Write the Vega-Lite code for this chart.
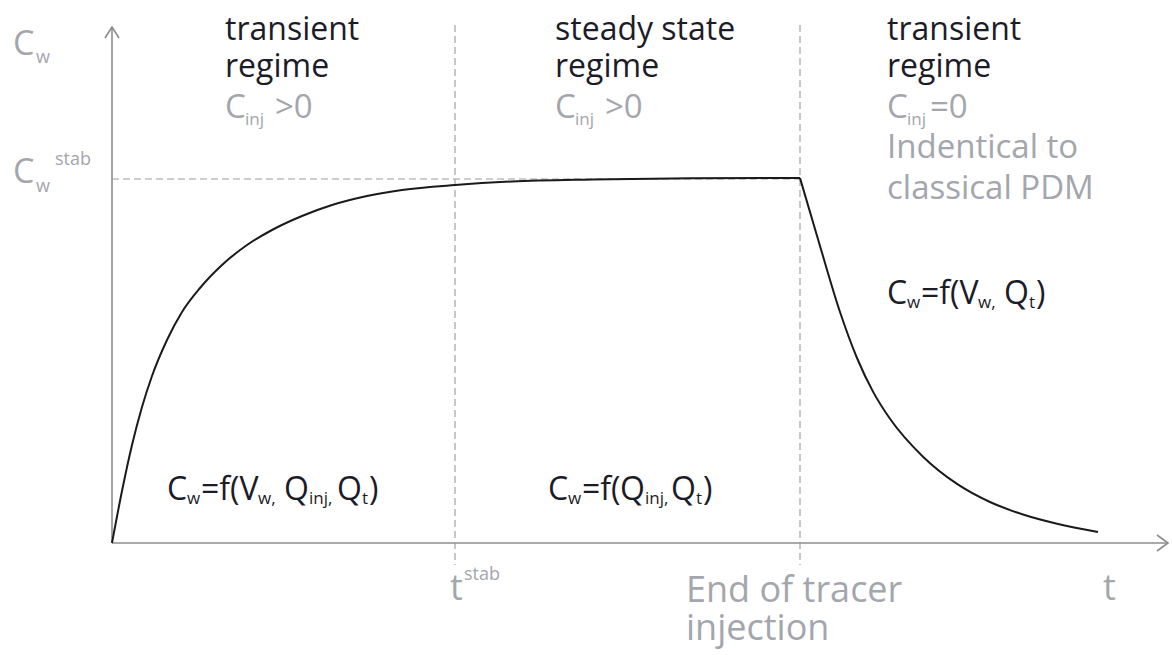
{
  "$schema": "https://vega.github.io/schema/vega-lite/v6.json",
  "width": 1172,
  "height": 655,
  "autosize": {"type": "fit", "contains": "padding"},
  "padding": 0,
  "background": "white",
  "config": {"view": {"stroke": null}},
  "datasets": {
    "axes": [
      {"g": "yaxis", "o": 1, "t": 0, "c": 0},
      {"g": "yaxis", "o": 2, "t": 0, "c": 516},
      {"g": "yarrow", "o": 1, "t": -7, "c": 505},
      {"g": "yarrow", "o": 2, "t": 0, "c": 516},
      {"g": "yarrow", "o": 3, "t": 7, "c": 505},
      {"g": "xaxis", "o": 1, "t": 0, "c": 0},
      {"g": "xaxis", "o": 2, "t": 1056, "c": 0},
      {"g": "xarrow", "o": 1, "t": 1045, "c": 8},
      {"g": "xarrow", "o": 2, "t": 1056, "c": 0},
      {"g": "xarrow", "o": 3, "t": 1045, "c": -8}
    ],
    "dashes": [
      {"g": "tstab", "o": 1, "t": 343, "c": 518},
      {"g": "tstab", "o": 2, "t": 343, "c": -22},
      {"g": "tend", "o": 1, "t": 688, "c": 518},
      {"g": "tend", "o": 2, "t": 688, "c": -22},
      {"g": "cstab", "o": 1, "t": 0, "c": 364},
      {"g": "cstab", "o": 2, "t": 688, "c": 364}
    ],
    "curve": [
      {"g": "rise", "t": 0, "c": 0},
      {"g": "rise", "t": 10, "c": 52},
      {"g": "rise", "t": 20, "c": 98},
      {"g": "rise", "t": 30, "c": 136},
      {"g": "rise", "t": 40, "c": 167},
      {"g": "rise", "t": 55, "c": 203},
      {"g": "rise", "t": 70, "c": 231},
      {"g": "rise", "t": 88, "c": 255},
      {"g": "rise", "t": 110, "c": 278},
      {"g": "rise", "t": 135, "c": 298},
      {"g": "rise", "t": 160, "c": 313},
      {"g": "rise", "t": 190, "c": 327},
      {"g": "rise", "t": 220, "c": 338},
      {"g": "rise", "t": 255, "c": 347},
      {"g": "rise", "t": 290, "c": 353},
      {"g": "rise", "t": 343, "c": 358},
      {"g": "rise", "t": 400, "c": 361.5},
      {"g": "rise", "t": 480, "c": 363.5},
      {"g": "rise", "t": 580, "c": 364.7},
      {"g": "rise", "t": 688, "c": 365},
      {"g": "decay", "t": 688, "c": 365},
      {"g": "decay", "t": 708, "c": 297},
      {"g": "decay", "t": 728, "c": 231},
      {"g": "decay", "t": 745, "c": 185},
      {"g": "decay", "t": 761, "c": 151.4},
      {"g": "decay", "t": 778, "c": 124.2},
      {"g": "decay", "t": 811, "c": 86.3},
      {"g": "decay", "t": 845, "c": 59.1},
      {"g": "decay", "t": 878, "c": 41},
      {"g": "decay", "t": 911, "c": 28.5},
      {"g": "decay", "t": 945, "c": 19.3},
      {"g": "decay", "t": 986, "c": 11.1}
    ],
    "labels": [
      {"kind": "regime", "label": "transient", "t": 113, "c": 503},
      {"kind": "regime", "label": "regime", "t": 113, "c": 466},
      {"kind": "regime", "label": "steady state", "t": 443, "c": 503},
      {"kind": "regime", "label": "regime", "t": 443, "c": 466},
      {"kind": "regime", "label": "transient", "t": 775, "c": 503},
      {"kind": "regime", "label": "regime", "t": 775, "c": 466},
      {"kind": "cond", "label": "C", "t": 113, "c": 425},
      {"kind": "cond", "label": ">0", "t": 163, "c": 425},
      {"kind": "cond", "label": "C", "t": 443, "c": 425},
      {"kind": "cond", "label": ">0", "t": 493, "c": 425},
      {"kind": "cond", "label": "C", "t": 775, "c": 425},
      {"kind": "cond", "label": "=0", "t": 818, "c": 425},
      {"kind": "cond", "label": "Indentical to", "t": 775, "c": 385},
      {"kind": "cond", "label": "classical PDM", "t": 775, "c": 344},
      {"kind": "condsub", "label": "inj", "t": 133, "c": 418},
      {"kind": "condsub", "label": "inj", "t": 463, "c": 418},
      {"kind": "condsub", "label": "inj", "t": 795, "c": 418},
      {"kind": "axis", "label": "C", "t": -99, "c": 488},
      {"kind": "axis", "label": "C", "t": -99, "c": 360},
      {"kind": "axissub", "label": "w", "t": -76, "c": 480},
      {"kind": "axissub", "label": "w", "t": -76, "c": 351},
      {"kind": "axissub", "label": "stab", "t": -57, "c": 378},
      {"kind": "event", "label": "t", "t": 338, "c": -57},
      {"kind": "axissub", "label": "stab", "t": 352, "c": -37},
      {"kind": "event", "label": "End of tracer", "t": 574, "c": -59},
      {"kind": "event", "label": "injection", "t": 574, "c": -97},
      {"kind": "event", "label": "t", "t": 991, "c": -57},
      {"kind": "formula", "label": "C", "t": 55, "c": 43},
      {"kind": "formulasub", "label": "w", "t": 75, "c": 39},
      {"kind": "formula", "label": "=f(V", "t": 89, "c": 43},
      {"kind": "formulasub", "label": "w,", "t": 146, "c": 39},
      {"kind": "formula", "label": "Q", "t": 172, "c": 43},
      {"kind": "formulasub", "label": "inj,", "t": 197, "c": 39},
      {"kind": "formula", "label": "Q", "t": 225, "c": 43},
      {"kind": "formulasub", "label": "t", "t": 250, "c": 39},
      {"kind": "formula", "label": ")", "t": 257, "c": 43},
      {"kind": "formula", "label": "C", "t": 436, "c": 43},
      {"kind": "formulasub", "label": "w", "t": 456, "c": 39},
      {"kind": "formula", "label": "=f(", "t": 470, "c": 43},
      {"kind": "formula", "label": "Q", "t": 508, "c": 43},
      {"kind": "formulasub", "label": "inj,", "t": 533, "c": 39},
      {"kind": "formula", "label": "Q", "t": 559, "c": 43},
      {"kind": "formulasub", "label": "t", "t": 584, "c": 39},
      {"kind": "formula", "label": ")", "t": 591, "c": 43},
      {"kind": "formula", "label": "C", "t": 775, "c": 239},
      {"kind": "formulasub", "label": "w", "t": 795, "c": 235},
      {"kind": "formula", "label": "=f(V", "t": 809, "c": 239},
      {"kind": "formulasub", "label": "w,", "t": 866, "c": 235},
      {"kind": "formula", "label": "Q", "t": 892, "c": 239},
      {"kind": "formulasub", "label": "t", "t": 917, "c": 235},
      {"kind": "formula", "label": ")", "t": 924, "c": 239}
    ]
  },
  "encoding": {
    "x": {"field": "t", "type": "quantitative", "scale": {"domain": [-112, 1060], "nice": false, "zero": false}, "axis": null},
    "y": {"field": "c", "type": "quantitative", "scale": {"domain": [-112, 543], "nice": false, "zero": false}, "axis": null}
  },
  "layer": [
    {
      "data": {"name": "axes"},
      "mark": {"type": "line", "color": "#8c8c8c", "strokeWidth": 1.6},
      "encoding": {"detail": {"field": "g"}, "order": {"field": "o"}}
    },
    {
      "data": {"name": "dashes"},
      "mark": {"type": "line", "color": "#9c9c9c", "strokeWidth": 1.1, "strokeDash": [7, 4]},
      "encoding": {"detail": {"field": "g"}, "order": {"field": "o"}}
    },
    {
      "data": {"name": "curve"},
      "mark": {"type": "line", "color": "#1a1a1a", "strokeWidth": 2, "interpolate": "monotone"},
      "encoding": {"detail": {"field": "g"}}
    },
    {
      "data": {"name": "labels"},
      "transform": [{"filter": "datum.kind === 'regime'"}],
      "mark": {"type": "text", "align": "left", "baseline": "alphabetic", "font": "Open Sans", "fontSize": 32, "color": "#1c1c28"},
      "encoding": {"text": {"field": "label"}}
    },
    {
      "data": {"name": "labels"},
      "transform": [{"filter": "datum.kind === 'cond'"}],
      "mark": {"type": "text", "align": "left", "baseline": "alphabetic", "font": "Open Sans", "fontSize": 33, "color": "#a3a6ad"},
      "encoding": {"text": {"field": "label"}}
    },
    {
      "data": {"name": "labels"},
      "transform": [{"filter": "datum.kind === 'condsub'"}],
      "mark": {"type": "text", "align": "left", "baseline": "alphabetic", "font": "Open Sans", "fontSize": 17, "color": "#a3a6ad"},
      "encoding": {"text": {"field": "label"}}
    },
    {
      "data": {"name": "labels"},
      "transform": [{"filter": "datum.kind === 'axis'"}],
      "mark": {"type": "text", "align": "left", "baseline": "alphabetic", "font": "Open Sans", "fontSize": 34, "color": "#a3a6ad"},
      "encoding": {"text": {"field": "label"}}
    },
    {
      "data": {"name": "labels"},
      "transform": [{"filter": "datum.kind === 'axissub'"}],
      "mark": {"type": "text", "align": "left", "baseline": "alphabetic", "font": "Open Sans", "fontSize": 18, "color": "#a3a6ad"},
      "encoding": {"text": {"field": "label"}}
    },
    {
      "data": {"name": "labels"},
      "transform": [{"filter": "datum.kind === 'event'"}],
      "mark": {"type": "text", "align": "left", "baseline": "alphabetic", "font": "Open Sans", "fontSize": 36, "color": "#a3a6ad"},
      "encoding": {"text": {"field": "label"}}
    },
    {
      "data": {"name": "labels"},
      "transform": [{"filter": "datum.kind === 'formula'"}],
      "mark": {"type": "text", "align": "left", "baseline": "alphabetic", "font": "Open Sans", "fontSize": 32, "color": "#1c1c28"},
      "encoding": {"text": {"field": "label"}}
    },
    {
      "data": {"name": "labels"},
      "transform": [{"filter": "datum.kind === 'formulasub'"}],
      "mark": {"type": "text", "align": "left", "baseline": "alphabetic", "font": "Open Sans", "fontSize": 17, "color": "#1c1c28"},
      "encoding": {"text": {"field": "label"}}
    }
  ]
}
